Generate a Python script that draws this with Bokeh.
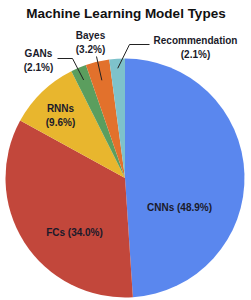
import math
from bokeh.plotting import figure
from bokeh.models import Range1d, ColumnDataSource
from bokeh.core.properties import value
from bokeh.embed import file_html
from bokeh.resources import INLINE

title = "Machine Learning Model Types"
categories = ["CNNs", "FCs", "RNNs", "GANs", "Bayes", "Recommendation"]
shares = [48.9, 34.0, 9.6, 2.1, 3.2, 2.1]
colors = ["#5A87EE", "#C2473B", "#E8B62E", "#5B9E5E", "#E2712C", "#7EC2CB"]

W, H = 251, 300
cx, cy, R = 124.5, H - 177.5, 119.5

p = figure(width=W, height=H, output_backend="svg", toolbar_location=None,
           x_range=Range1d(0, W), y_range=Range1d(0, H), min_border=0)
p.axis.visible = False
p.grid.visible = False
p.outline_line_color = None
p.background_fill_color = "white"
p.border_fill_color = "white"

total = sum(shares)
starts, ends, mids = [], [], []
acc = 0.0
for s in shares:
    a0 = math.pi / 2 - 2 * math.pi * acc / total
    acc += s
    a1 = math.pi / 2 - 2 * math.pi * acc / total
    starts.append(a0)
    ends.append(a1)
    mids.append((a0 + a1) / 2)

src = ColumnDataSource(dict(start=starts, end=ends, color=colors))
p.wedge(x=cx, y=cy, radius=R, start_angle="start", end_angle="end",
        direction="clock", fill_color="color", line_color=None, source=src)

font = value("Liberation Sans")

# title
p.text(x=[125.5], y=[H - 13], text=[title], text_font=font, text_font_size="13.5px",
       text_font_style="bold", text_align="center", text_baseline="middle",
       text_color="#111111")

labels = [f"{c} ({s:.1f}%)" for c, s in zip(categories, shares)]

# inside labels
p.text(x=[179, 74], y=[H - 207, H - 232], text=labels[:2], text_font=font,
       text_font_size="10px", text_font_style="bold", text_align="center",
       text_baseline="middle", text_color="#1a1a2a")

# outside labels (two lines each)
out = [
    (2, 60, 108),
    (3, 38, 53),
    (4, 90, 35),
    (5, 195, 40),
]
for i, x, y in out:
    p.text(x=[x, x], y=[H - y, H - y - 13.5],
           text=[categories[i], f"({shares[i]:.1f}%)"], text_font=font,
           text_font_size="10px", text_font_style="bold", text_align="center",
           text_baseline="middle", text_color="#1a1a2a")

# leader lines
def inner(i, f):
    a = mids[i]
    return cx + f * R * math.cos(a), cy + f * R * math.sin(a)

gx, gy = inner(3, 0.89)
p.line(x=[57, 72, gx], y=[H - 58, H - 58, gy], line_color="#222222", line_width=1)
bx, by = inner(4, 0.84)
p.line(x=[96, bx], y=[H - 56, by], line_color="#222222", line_width=1)
rx, ry = inner(5, 0.92)
p.line(x=[149, 129, rx], y=[H - 44, H - 44, ry], line_color="#222222", line_width=1)

open("out.html", "w").write(file_html(p, INLINE))
